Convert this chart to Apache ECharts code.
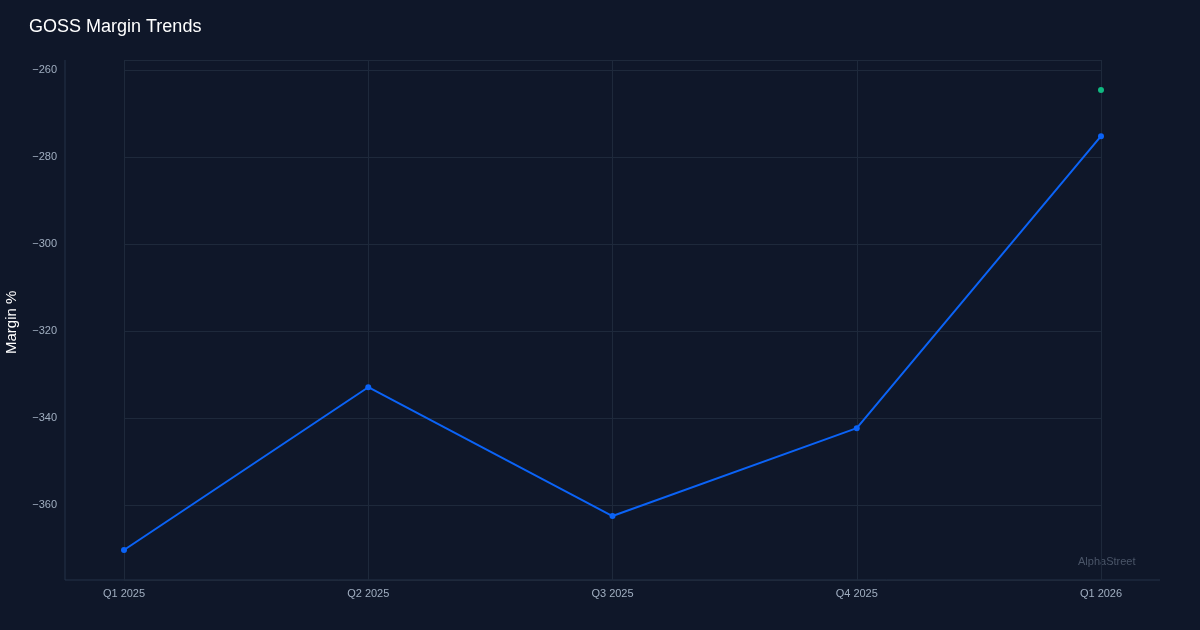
<!DOCTYPE html>
<html><head><meta charset="utf-8">
<script src="https://cdn.jsdelivr.net/npm/echarts@6/dist/echarts.min.js"></script>
<style>html,body{margin:0;background:#0f1729;}#c{width:1200px;height:630px;}</style>
</head><body><div id="c"></div>
<script>
const categories = ['Q1 2025','Q2 2025','Q3 2025','Q4 2025','Q1 2026'];
const marginValues = [-370.3, -332.9, -362.5, -342.3, -275.2];
const greenValues = [null, null, null, null, -264.6];
const chart = echarts.init(document.getElementById('c'));
chart.setOption({
  backgroundColor:'#0f1729',
  title:{text:'GOSS Margin Trends',left:24,top:13,textStyle:{color:'#ffffff',fontSize:18,fontWeight:'normal',fontFamily:'Liberation Sans, Arial'}},
  grid:{left:124,right:99,top:60,bottom:50},
  graphic:[
    {type:'text',left:1078,top:556,style:{text:'AlphaStreet',fill:'#4a5568',fontSize:11,fontFamily:'Liberation Sans'}},
    {type:'text',rotation:Math.PI/2,x:4,y:354,style:{text:'Margin %',fill:'#ffffff',fontSize:15,fontFamily:'Liberation Sans'}},
    {type:'line',shape:{x1:65,y1:580,x2:1160,y2:580},style:{stroke:'#253248',lineWidth:1}},
    {type:'line',shape:{x1:65,y1:60,x2:65,y2:580},style:{stroke:'#253248',lineWidth:1}}
  ],
  xAxis:{type:'category',data:categories,boundaryGap:false,
    axisLine:{show:false},axisTick:{show:false},
    axisLabel:{color:'#a0aec0',fontSize:11,margin:8},
    splitLine:{show:true,lineStyle:{color:'#1e293b'}}},
  yAxis:{type:'value',min:-377.2,max:-257.7,offset:59,
    axisLine:{show:false},axisTick:{show:false},
    axisLabel:{color:'#a0aec0',fontSize:11,showMinLabel:false,showMaxLabel:false,
      formatter:v=>String(v).replace('-','\u2212')},
    splitLine:{lineStyle:{color:'#1e293b'}}},
  series:[
    {type:'line',data:marginValues,symbol:'circle',symbolSize:6,
      itemStyle:{color:'#0b63f6'},lineStyle:{color:'#0b63f6',width:2}},
    {type:'line',data:greenValues,symbol:'circle',symbolSize:6,
      itemStyle:{color:'#10b981'},lineStyle:{width:0}}
  ]
});
</script></body></html>
